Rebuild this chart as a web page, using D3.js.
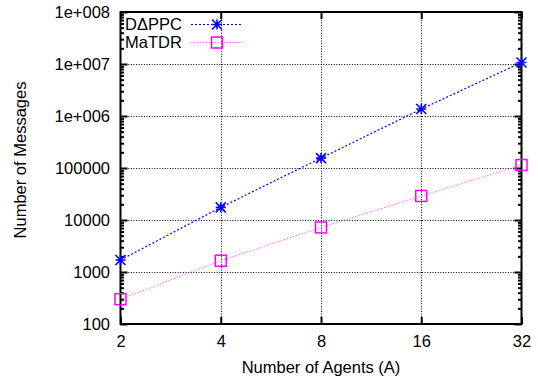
<!DOCTYPE html>
<html>
<head>
<meta charset="utf-8">
<script src="https://cdn.jsdelivr.net/npm/d3@7"></script>
<style>
  body { margin: 0; background: #fff; }
  text { font-family: "Liberation Sans", Arial, sans-serif; font-size: 16.5px; fill: #000; }
</style>
</head>
<body>
<svg id="chart" width="538" height="381"></svg>
<script>
// data
const agents = [2, 4, 8, 16, 32];
const dappcMessages = [1700, 17500, 155000, 1360000, 10700000];
const matdrMessages = [300, 1650, 7200, 29000, 114000];
const seriesNames = ["DΔPPC", "MaTDR"];
const yTicks = [100, 1000, 10000, 100000, 1e6, 1e7, 1e8];
const yTickLabels = ["100", "1000", "10000", "100000", "1e+006", "1e+007", "1e+008"];

const plotLeft = 120.5, plotRight = 521.5, plotTop = 12, plotBottom = 324;

const svg = d3.select("#chart");

const x = d3.scaleLog().base(2).domain([2, 32]).range([plotLeft, plotRight]);
const y = d3.scaleLog().domain([100, 1e8]).range([plotBottom, plotTop]);

// minor ticks 2..9 in each decade
const minorTicks = [];
for (let p = 2; p < 8; p++) {
    for (let m = 2; m <= 9; m++) minorTicks.push(m * Math.pow(10, p));
}

// grid (dotted)
const grid = svg.append("g").attr("stroke", "#000").attr("stroke-width", 1)
    .attr("stroke-dasharray", "1,1.6");
grid.selectAll(".gx").data(agents.slice(1, -1)).enter().append("line")
    .attr("x1", d => Math.round(x(d)) + 0.5).attr("x2", d => Math.round(x(d)) + 0.5)
    .attr("y1", plotTop).attr("y2", plotBottom);
grid.selectAll(".gy").data(yTicks.slice(1, -1)).enter().append("line")
    .attr("x1", plotLeft).attr("x2", plotRight)
    .attr("y1", d => Math.round(y(d)) + 0.5).attr("y2", d => Math.round(y(d)) + 0.5);

// axes
function styleAxis(g) {
    g.select(".domain").remove();
    g.selectAll(".tick line").attr("stroke", "#000").attr("stroke-width", 2);
    g.selectAll(".tick text").style("font-size", "16.5px").attr("fill", "#000");
}

svg.append("g").attr("transform", `translate(${plotLeft},0)`)
    .call(d3.axisLeft(y).tickValues(yTicks).tickFormat((d, i) => yTickLabels[i])
        .tickSizeInner(-7).tickSizeOuter(0).tickPadding(10.5))
    .call(styleAxis);
svg.append("g").attr("transform", `translate(${plotLeft},0)`)
    .call(d3.axisLeft(y).tickValues(minorTicks).tickFormat("").tickSizeInner(-3.5).tickSizeOuter(0))
    .call(styleAxis);
svg.append("g").attr("transform", `translate(${plotRight},0)`)
    .call(d3.axisRight(y).tickValues(yTicks).tickFormat("").tickSizeInner(-7).tickSizeOuter(0))
    .call(styleAxis);
svg.append("g").attr("transform", `translate(${plotRight},0)`)
    .call(d3.axisRight(y).tickValues(minorTicks).tickFormat("").tickSizeInner(-3.5).tickSizeOuter(0))
    .call(styleAxis);
svg.append("g").attr("transform", `translate(0,${plotBottom})`)
    .call(d3.axisBottom(x).tickValues(agents).tickFormat(d3.format("d"))
        .tickSizeInner(-7).tickSizeOuter(0).tickPadding(11))
    .call(styleAxis);
svg.append("g").attr("transform", `translate(0,${plotTop})`)
    .call(d3.axisTop(x).tickValues(agents).tickFormat("").tickSizeInner(-7).tickSizeOuter(0))
    .call(styleAxis);

// border
svg.append("rect").attr("x", plotLeft).attr("y", plotTop)
    .attr("width", plotRight - plotLeft).attr("height", plotBottom - plotTop)
    .attr("fill", "none").attr("stroke", "#000").attr("stroke-width", 2);

// axis titles
svg.append("text").attr("x", 321).attr("y", 373).attr("text-anchor", "middle")
    .text("Number of Agents (A)");
svg.append("text").attr("transform", "translate(20,160) rotate(-90)")
    .attr("text-anchor", "middle").attr("dy", "0.35em")
    .text("Number of Messages");

// markers
function star(g, cx, cy, color) {
    const r = 5;
    g.append("path")
        .attr("d", `M${cx - r},${cy}H${cx + r}M${cx},${cy - r}V${cy + r}` +
            `M${cx - r},${cy - r}L${cx + r},${cy + r}M${cx - r},${cy + r}L${cx + r},${cy - r}`)
        .attr("stroke", color).attr("stroke-width", 1.6).attr("fill", "none");
}
function square(g, cx, cy, color) {
    const r = 5.5;
    g.append("rect").attr("x", cx - r).attr("y", cy - r).attr("width", 2 * r).attr("height", 2 * r)
        .attr("stroke", color).attr("stroke-width", 1.5).attr("fill", "none");
}

const series = [
    { name: seriesNames[0], values: dappcMessages, color: "#0000ff", dash: "2,2", width: 1.2, opacity: 1, marker: star },
    { name: seriesNames[1], values: matdrMessages, color: "#ff00ff", dash: "1.5,1.5", width: 1, opacity: 0.6, marker: square }
];

const line = d3.line().x(d => x(d[0])).y(d => y(d[1]));

series.forEach((s, si) => {
    const pts = agents.map((a, i) => [a, s.values[i]]);
    const g = svg.append("g");
    g.append("path").datum(pts).attr("d", line)
        .attr("fill", "none").attr("stroke", s.color).attr("stroke-width", s.width)
        .attr("stroke-opacity", s.opacity).attr("stroke-dasharray", s.dash);
    pts.forEach(p => s.marker(g, x(p[0]), y(p[1]), s.color));

    // legend entry
    const ly = 24.5 + si * 18;
    const lg = svg.append("g");
    lg.append("text").attr("x", 125).attr("y", ly).attr("dy", "0.35em").text(s.name);
    lg.append("line").attr("x1", 191).attr("x2", 243).attr("y1", ly).attr("y2", ly)
        .attr("stroke", s.color).attr("stroke-width", s.width)
        .attr("stroke-opacity", s.opacity).attr("stroke-dasharray", s.dash);
    s.marker(lg, 217, ly, s.color);
});
</script>
</body>
</html>
